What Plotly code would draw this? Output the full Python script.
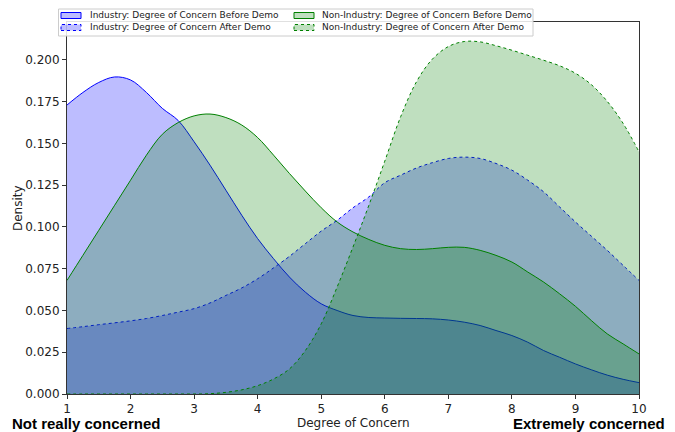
import plotly.graph_objects as go

# Degree of concern grid (1..10, step 0.25)
degree = [1 + 0.25 * i for i in range(37)]

industry_before = [0.173, 0.1805, 0.1865, 0.1898, 0.188, 0.1805, 0.171, 0.1637, 0.151, 0.137,
                   0.122, 0.107, 0.093, 0.081, 0.070, 0.061, 0.054, 0.050, 0.047, 0.0458,
                   0.0455, 0.0453, 0.0452, 0.045, 0.0443, 0.043, 0.041, 0.038, 0.035, 0.031,
                   0.026, 0.022, 0.018, 0.0145, 0.0113, 0.0088, 0.0068]

industry_after = [0.0392, 0.0403, 0.0415, 0.0426, 0.0438, 0.0452, 0.047, 0.049, 0.0511, 0.0545,
                  0.059, 0.0635, 0.069, 0.0755, 0.0824, 0.090, 0.0975, 0.104, 0.1115, 0.118,
                  0.1265, 0.131, 0.1353, 0.1385, 0.141, 0.1418, 0.141, 0.138, 0.134, 0.128,
                  0.121, 0.112, 0.103, 0.0945, 0.086, 0.077, 0.068]

nonindustry_before = [0.068, 0.083, 0.098, 0.113, 0.128, 0.143, 0.1555, 0.1625, 0.1665, 0.1676,
                      0.1655, 0.161, 0.1535, 0.143, 0.132, 0.1215, 0.1115, 0.103, 0.097, 0.0925,
                      0.089, 0.087, 0.0865, 0.087, 0.0878, 0.0878, 0.086, 0.083, 0.079, 0.073,
                      0.067, 0.060, 0.0525, 0.044, 0.036, 0.030, 0.024]

nonindustry_after = [0.0, 0.0, 0.0, 0.0, 0.0, 0.0, 0.0, 0.0, 0.0, 0.0002,
                     0.001, 0.0025, 0.005, 0.009, 0.015, 0.026, 0.042, 0.064, 0.088, 0.113,
                     0.1394, 0.166, 0.187, 0.2005, 0.208, 0.211, 0.2108, 0.2085, 0.2058, 0.2028,
                     0.1998, 0.1965, 0.192, 0.1852, 0.1752, 0.162, 0.145]

x_ticks = [1, 2, 3, 4, 5, 6, 7, 8, 9, 10]
y_ticks = [0.0, 0.025, 0.05, 0.075, 0.1, 0.125, 0.15, 0.175, 0.2]
y_tick_labels = ["0.000", "0.025", "0.050", "0.075", "0.100", "0.125", "0.150", "0.175", "0.200"]

BLUE = "rgb(0,0,255)"
GREEN = "rgb(0,128,0)"
BLUE_FILL = "rgba(0,0,255,0.26)"
GREEN_FILL = "rgba(0,128,0,0.25)"

series = [
    ("Industry: Degree of Concern Before Demo", industry_before, BLUE, BLUE_FILL, "solid"),
    ("Industry: Degree of Concern After Demo", industry_after, BLUE, BLUE_FILL, "dot"),
    ("Non-Industry: Degree of Concern Before Demo", nonindustry_before, GREEN, GREEN_FILL, "solid"),
    ("Non-Industry: Degree of Concern After Demo", nonindustry_after, GREEN, GREEN_FILL, "dot"),
]

# The page body has an 8px default margin: size the figure so it fits the window.
OFF = 8
W, H = 675 - OFF, 432 - OFF
ML, MT = 67 - OFF, 22 - OFF
MR, MB = 675 - 639, 432 - 394
PW, PH = W - ML - MR, H - MT - MB


def px_x(px):
    return (px - OFF - ML) / PW


def px_y(py):
    return (H - MB - (py - OFF)) / PH


fig = go.Figure()
for name, vals, col, fcol, dash in series:
    fig.add_trace(go.Scatter(
        x=degree, y=vals, name=name, mode="lines",
        line=dict(color=col, width=1, dash=dash, shape="spline", smoothing=1.0),
        fill="tozeroy", fillcolor=fcol, showlegend=False,
    ))

axis_common = dict(
    showgrid=False, zeroline=False, showline=True, mirror=True, automargin=False,
    linecolor="#333333", linewidth=1, ticks="outside", ticklen=4,
    tickcolor="#333333", tickfont=dict(family="DejaVu Sans", size=12, color="#222"),
)

fig.update_layout(
    width=W, height=H,
    margin=dict(l=ML, r=MR, t=MT, b=MB, autoexpand=False),
    paper_bgcolor="white", plot_bgcolor="white",
    font=dict(family="DejaVu Sans", size=12, color="#222"),
    showlegend=False,
    xaxis=dict(range=[1, 10], tickvals=x_ticks, **axis_common),
    yaxis=dict(range=[0, 0.2227], tickvals=y_ticks, ticktext=y_tick_labels, **axis_common),
)

# axis titles
fig.add_annotation(text="Degree of Concern", xref="paper", yref="paper",
                   x=0.5, y=px_y(414), xanchor="center", yanchor="top", showarrow=False,
                   font=dict(family="DejaVu Sans", size=12, color="#222"))
fig.add_annotation(text="Density", xref="paper", yref="paper", textangle=-90,
                   x=px_x(18), y=px_y(208), xanchor="center", yanchor="middle", showarrow=False,
                   font=dict(family="DejaVu Sans", size=12, color="#222"))

# end labels
fig.add_annotation(text="<b>Not really concerned</b>", xref="paper", yref="paper",
                   x=px_x(10), y=px_y(423), xanchor="left", yanchor="middle", showarrow=False,
                   font=dict(family="Liberation Sans", size=15, color="black"))
fig.add_annotation(text="<b>Extremely concerned</b>", xref="paper", yref="paper",
                   x=px_x(667), y=px_y(423), xanchor="right", yanchor="middle", showarrow=False,
                   font=dict(family="Liberation Sans", size=15, color="black"))

# legend (matplotlib-style box with two columns)
fig.add_shape(type="rect", xref="paper", yref="paper", layer="above",
              x0=px_x(58.5), x1=px_x(533), y0=px_y(36), y1=px_y(9),
              fillcolor="rgba(255,255,255,0.85)", line=dict(color="#cccccc", width=1))
legend_cols = [(61, 87.5), (294, 319.5)]
legend_rows = [15.5, 27.5]
for i, (name, vals, col, fcol, dash) in enumerate(series):
    cx, tx = legend_cols[i // 2]
    ry = legend_rows[i % 2]
    fig.add_shape(type="rect", xref="paper", yref="paper", layer="above",
                  x0=px_x(cx), x1=px_x(cx + 20), y0=px_y(ry + 3), y1=px_y(ry - 3),
                  fillcolor=fcol, line=dict(color=col, width=1, dash=dash))
    fig.add_annotation(text=name, xref="paper", yref="paper",
                       x=px_x(tx), y=px_y(ry), xanchor="left", yanchor="middle", showarrow=False,
                       font=dict(family="DejaVu Sans", size=9, color="#222"))

fig.write_html("out.html")
